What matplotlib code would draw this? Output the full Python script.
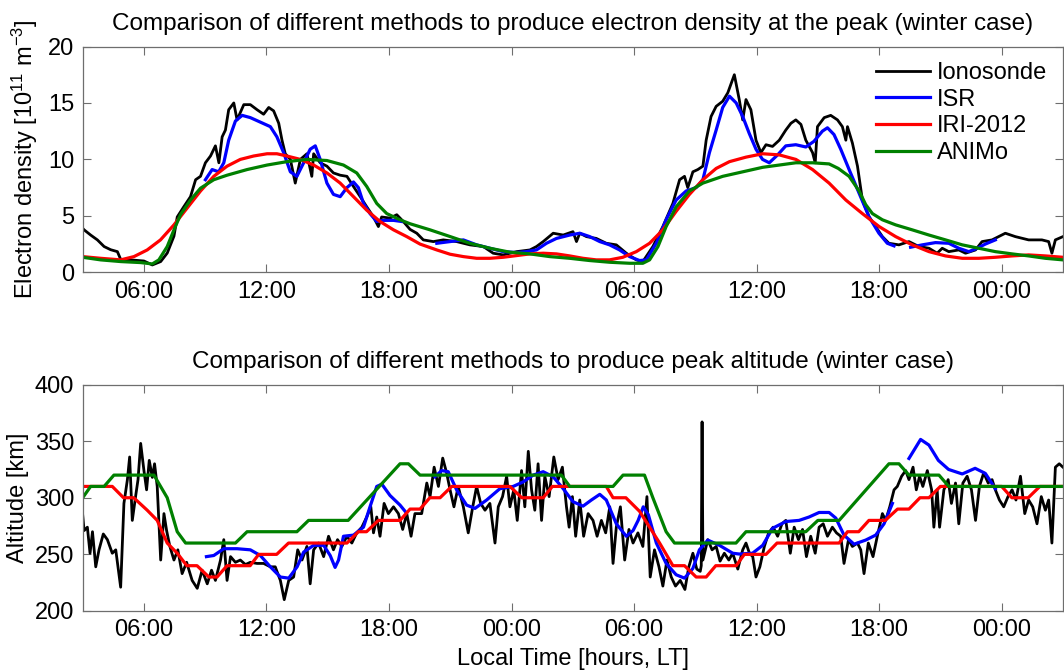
import numpy as np
import matplotlib
matplotlib.use("Agg")
import matplotlib.pyplot as plt

plt.rcParams['font.family'] = ['Liberation Sans', 'DejaVu Sans']
plt.rcParams['mathtext.default'] = 'regular'

nan = np.nan

# ---- electron density at the peak [1e11 m^-3], time in hours LT from day-1 00:00 ----
ne_iono_t = [3.0, 3.07, 3.39, 3.72, 4.05, 4.37, 4.70, 4.86, 5.35, 6.0, 6.41, 6.82, 7.14, 7.47, 7.63,
             7.95, 8.28, 8.53, 8.77, 9.01, 9.26, 9.50, 9.67, 9.83, 9.99, 10.15, 10.40, 10.56, 10.89,
             11.21, 11.54, 11.86, 12.11, 12.35, 12.60, 12.76, 12.92, 13.17, 13.41, 13.66, 13.98, 14.22,
             14.31, 14.63, 14.96, 15.28, 15.61, 15.94, 16.26, 16.59, 16.91, 17.24, 17.48, 17.64, 18.05,
             18.38, 18.70, 19.03, 19.36, 19.68, 20.17, 20.66, 21.31, 21.96, 22.62, 23.10, 23.59, 24.25,
             24.90, 25.22, 25.55, 26.04, 26.53, 27.01, 27.18, 27.34, 27.67, 28.15, 28.64, 29.13, 29.62,
             30.11, 30.43, 30.92, 31.41, 31.90, 32.23, 32.47, 32.63, 32.88, 33.12, 33.37, 33.53, 33.77,
             34.02, 34.34, 34.59, 34.91, 35.15, 35.32, 35.48, 35.72, 35.97, 36.21, 36.46, 36.78, 37.11,
             37.43, 37.68, 37.92, 38.17, 38.41, 38.74, 38.87, 38.98, 39.31, 39.63, 39.96, 40.20, 40.37,
             40.45, 40.69, 40.94, 41.18, 41.51, 41.83, 42.16, 42.48, 42.97, 43.46, 43.95, 44.44, 44.84,
             45.09, 45.41, 45.90, 46.23, 46.72, 47.04, 47.53, 48.18, 48.67, 49.32, 49.97, 50.30, 50.46,
             50.63, 51.0]
ne_iono = [3.9, 3.76, 3.3, 2.87, 2.28, 2.0, 1.83, 1.15, 1.1, 1.0, 0.65, 0.95, 1.7, 3.2, 4.9,
           5.8, 6.7, 8.2, 8.5, 9.7, 10.3, 11.2, 9.7, 12.0, 12.6, 14.4, 15.0, 13.5, 14.85,
           14.85, 14.4, 14.0, 14.6, 14.3, 13.2, 11.7, 10.5, 10.0, 7.9, 10.0, 10.5, 8.5,
           10.5, 9.7, 9.4, 8.8, 8.6, 8.5, 7.6, 6.7, 5.8, 4.9, 4.05, 4.9, 4.8,
           5.1, 4.5, 3.8, 3.46, 2.87, 2.72, 2.87, 2.72, 2.43, 2.28, 1.69, 1.54, 1.83,
           1.98, 2.28, 2.72, 3.46, 3.3, 3.6, 2.72, 3.46, 3.16, 3.0, 2.57, 2.43, 1.69,
           1.1, 0.95, 2.28, 4.05, 6.1, 8.2, 8.5, 7.5, 8.9, 9.1, 9.4, 11.7, 13.8,
           14.7, 15.15, 15.9, 17.5, 15.3, 13.5, 15.3, 14.4, 11.7, 10.6, 11.3, 11.15, 11.7,
           12.6, 13.2, 13.5, 13.1, 11.7, 10.6, 9.7, 12.9, 13.7, 13.9, 13.5, 12.9, 11.7,
           12.9, 11.45, 9.4, 6.4, 4.9, 4.05, 3.16, 2.57, 2.43, 2.72, 2.28, 2.13, 1.69,
           2.13, 1.83, 1.98, 1.69, 1.98, 2.72, 2.87, 3.46, 3.16, 2.87, 2.87, 2.72, 1.69,
           2.87, 3.16]

ne_isr_t = [9.01, 9.34, 9.66, 9.91, 10.15, 10.48, 10.81, 11.21, 11.70, 12.19, 12.51, 12.84, 13.17,
            13.49, 13.82, 14.14, 14.39, 14.63, 14.96, 15.28, 15.61, 15.94, 16.26, 16.50, 16.75, 17.07,
            17.40, 17.73, 18.22, 18.62, 19.5,
            20.34, 20.99, 21.64, 22.29, 22.94, 23.59, 24.25, 24.73, 25.22, 25.71, 26.20, 26.85, 27.34,
            27.83, 28.32, 28.80, 29.29, 29.78, 30.27, 30.60, 31.09, 31.57, 32.06, 32.55, 33.04, 33.37,
            33.69, 34.02, 34.34, 34.67, 35.0, 35.32, 35.64, 35.97, 36.29, 36.62, 37.03, 37.43, 37.92,
            38.41, 38.81, 39.22, 39.47, 39.79, 40.12, 40.53, 41.02, 41.51, 41.99, 42.40, 42.73, 43.1,
            43.54, 44.11, 44.76, 45.41, 45.90, 46.39, 46.80, 47.20, 47.69]
ne_isr = [8.2, 9.1, 8.9, 9.7, 11.7, 13.4, 13.9, 13.7, 13.3, 12.9, 12.0, 10.6, 8.9,
          8.5, 9.7, 10.9, 11.2, 10.0, 7.9, 6.9, 6.7, 7.5, 8.0, 7.5, 6.1, 5.2,
          4.5, 4.6, 4.6, 4.5, nan,
          2.57, 2.72, 2.87, 2.43, 2.13, 1.83, 1.75, 1.83, 1.98, 2.57, 3.0, 3.3, 3.46,
          3.16, 2.72, 2.43, 1.98, 1.39, 1.04, 1.1, 2.57, 4.65, 6.4, 7.2, 7.5, 8.2,
          10.6, 12.6, 14.6, 15.6, 15.0, 13.8, 12.3, 10.9, 10.0, 9.7, 10.4, 11.2, 11.3,
          11.1, 11.6, 12.5, 12.8, 12.2, 10.9, 9.1, 7.0, 4.9, 3.46, 2.57, 2.34, nan,
          2.22, 2.43, 2.63, 2.57, 2.13, 1.83, 2.13, 2.5, 2.87]

ne_iri_t = [3.0, 3.88, 4.86, 5.51, 6.16, 6.81, 7.47, 8.12, 8.77, 9.42, 10.07, 10.72, 11.37, 12.03,
            12.51, 13.0, 13.66, 14.31, 14.96, 15.61, 16.26, 16.91, 17.56, 18.22, 18.87, 19.52, 20.34,
            20.99, 21.64, 22.29, 22.94, 23.59, 24.25, 24.90, 25.55, 26.20, 26.85, 27.50, 28.15, 28.80,
            29.45, 30.11, 30.76, 31.41, 32.06, 32.71, 33.37, 34.02, 34.67, 35.48, 36.30, 37.11, 37.92,
            38.74, 39.55, 40.37, 41.18, 42.0, 42.81, 43.62, 44.44, 45.25, 46.07, 46.88, 47.69, 48.51,
            49.32, 50.14, 51.0]
ne_iri = [1.39, 1.24, 1.1, 1.39, 1.98, 2.87, 4.2, 5.7, 7.2, 8.5, 9.4, 10.0, 10.3, 10.5,
          10.5, 10.3, 10.0, 9.5, 8.8, 7.9, 6.7, 5.5, 4.5, 3.76, 3.16, 2.5, 1.98,
          1.6, 1.39, 1.24, 1.24, 1.33, 1.48, 1.63, 1.69, 1.63, 1.45, 1.24, 1.1, 1.1,
          1.33, 1.83, 2.57, 3.76, 5.4, 6.9, 8.2, 9.2, 9.8, 10.2, 10.5, 10.4, 10.0,
          9.1, 7.9, 6.4, 5.2, 4.05, 3.16, 2.43, 1.83, 1.45, 1.24, 1.24, 1.33, 1.45,
          1.54, 1.45, 1.33]

ne_animo_t = [3.0, 3.88, 4.86, 5.84, 6.41, 6.73, 7.14, 7.47, 7.79, 8.28, 8.77, 9.42, 10.07, 11.05,
              12.03, 13.0, 13.98, 14.96, 15.77, 16.42, 16.91, 17.40, 17.89, 18.54, 19.03, 20.01, 21.0,
              21.96, 22.94, 23.92, 24.90, 25.87, 26.85, 27.83, 28.80, 29.78, 30.43, 30.76, 31.17, 31.57,
              32.06, 32.71, 33.37, 34.34, 35.32, 36.30, 37.11, 37.92, 38.74, 39.55, 40.0, 40.53, 41.02,
              41.34, 41.67, 42.16, 42.81, 43.62, 44.44, 45.25, 46.07, 46.88, 47.69, 48.51, 49.32, 50.14,
              51.0]
ne_animo = [1.33, 1.1, 0.95, 0.86, 0.74, 1.1, 2.28, 3.76, 5.1, 6.4, 7.45, 8.2, 8.6, 9.1,
            9.5, 9.8, 10.0, 9.9, 9.5, 8.8, 7.6, 6.1, 5.2, 4.65, 4.3, 3.76, 3.16,
            2.57, 2.13, 1.78, 1.63, 1.39, 1.24, 1.04, 0.89, 0.8, 0.8, 1.1, 2.28, 4.05,
            5.8, 7.2, 7.9, 8.5, 8.9, 9.3, 9.5, 9.7, 9.7, 9.6, 9.2, 8.5, 7.2,
            6.0, 5.2, 4.65, 4.2, 3.76, 3.3, 2.87, 2.43, 2.13, 1.83, 1.63, 1.45, 1.24,
            1.1]

# ---- peak altitude [km] ----
hm_iono_t = [3.0, 3.07, 3.23, 3.36, 3.48, 3.64, 3.80, 4.01, 4.21, 4.45, 4.62, 4.86, 5.02, 5.19, 5.30,
             5.43, 5.59, 5.71, 5.84, 6.0, 6.13, 6.26, 6.41, 6.52, 6.65, 6.82, 6.98, 7.11, 7.27, 7.47,
             7.66, 7.87, 8.09, 8.36, 8.61, 8.85, 9.10, 9.31, 9.50, 9.75, 9.91, 10.07, 10.24, 10.48,
             10.72, 10.97, 11.21, 11.54, 11.86, 12.19, 12.43, 12.68, 12.87, 13.09, 13.33, 13.53, 13.74,
             13.98, 14.14, 14.31, 14.55, 14.80, 15.04, 15.28, 15.48, 15.69, 15.94, 16.18, 16.42, 16.67,
             16.91, 17.11, 17.24, 17.40, 17.56, 17.76, 17.97, 18.22, 18.46, 18.67, 18.87, 19.08, 19.27,
             19.60, 19.85, 20.01, 20.21, 20.42, 20.63, 20.82, 20.99, 21.18, 21.39, 21.64, 21.88, 22.10,
             22.29, 22.49, 22.70, 22.94, 23.19, 23.35, 23.56, 23.76, 23.92, 24.11, 24.28, 24.49, 24.65,
             24.82, 24.98, 25.14, 25.30, 25.47, 25.63, 25.84, 26.07, 26.28, 26.49, 26.69, 26.82, 26.98,
             27.14, 27.34, 27.53, 27.75, 27.99, 28.19, 28.40, 28.61, 28.81, 28.97, 29.13, 29.33, 29.54,
             29.75, 29.95, 30.19, 30.43, 30.63, 30.79, 31.00, 31.22, 31.41, 31.61, 31.82, 32.03, 32.26,
             32.49, 32.68, 32.88, 33.07, 33.24, 33.29, 33.33, 33.37, 33.45, 33.61, 33.82, 34.02, 34.21,
             34.42, 34.64, 34.83, 35.08, 35.32, 35.48, 35.65, 35.81, 35.97, 36.16, 36.38, 36.59, 36.81,
             37.03, 37.24, 37.43, 37.65, 37.84, 38.05, 38.25, 38.44, 38.65, 38.87, 39.06, 39.26, 39.47,
             39.71, 39.91, 40.12, 40.28, 40.50, 40.69, 40.94, 41.10, 41.26, 41.47, 41.70, 41.91, 42.16,
             42.32, 42.52, 42.73, 42.89, 43.10, 43.30, 43.46, 43.66, 43.82, 43.98, 44.14, 44.36, 44.57,
             44.68, 44.84, 44.96, 45.17, 45.38, 45.54, 45.74, 45.90, 46.10, 46.31, 46.52, 46.72, 46.91,
             47.12, 47.34, 47.53, 47.69, 47.89, 48.10, 48.31, 48.51, 48.70, 48.92, 49.13, 49.32, 49.52,
             49.73, 49.94, 50.14, 50.30, 50.46, 50.63, 50.82, 51.0]
hm_iono = [285, 271, 274, 251, 270, 239, 254, 268, 263, 251, 254, 221, 295, 316, 336,
           280, 301, 316, 348, 324, 307, 333, 318, 330, 310, 245, 286, 271, 257, 245,
           254, 233, 243, 227, 220, 236, 224, 236, 227, 245, 263, 227, 248, 243,
           245, 241, 243, 242, 242, 239, 239, 227, 210, 227, 230, 254, 245,
           257, 224, 254, 260, 248, 266, 254, 263, 257, 266, 260, 269, 274,
           283, 292, 269, 283, 266, 295, 286, 292, 286, 272, 286, 266, 286,
           286, 313, 301, 327, 310, 335, 322, 307, 292, 310, 292, 269, 292,
           310, 295, 289, 295, 260, 292, 301, 319, 292, 307, 280, 324, 292,
           341, 307, 289, 330, 280, 319, 301, 336, 316, 327, 292, 274, 301,
           266, 298, 266, 286, 280, 266, 280, 269, 292, 242, 274, 292, 245,
           272, 260, 269, 257, 301, 230, 254, 239, 222, 245, 230, 222, 227,
           219, 239, 251, 237, 235, 240, 367, 245, 251, 263, 254, 257, 244,
           251, 245, 251, 237, 254, 260, 251, 248, 230, 239, 257, 269, 274,
           266, 277, 280, 251, 274, 263, 272, 248, 266, 251, 274, 277, 266,
           274, 269, 266, 242, 263, 257, 260, 254, 233, 260, 248, 266, 286,
           280, 292, 307, 310, 319, 324, 316, 327, 307, 319, 310, 324, 307,
           274, 307, 274, 307, 316, 295, 313, 277, 313, 319, 307, 280, 310,
           322, 313, 316, 307, 298, 292, 301, 307, 298, 319, 286, 298, 292,
           277, 301, 289, 298, 260, 327, 330, 327]

hm_isr_t = [9.06, 9.42, 9.91, 10.56, 11.21, 11.70, 12.19, 12.68, 13.09, 13.50, 13.82, 14.31, 14.80,
            15.12, 15.36, 15.53, 15.77, 16.26, 16.75, 17.07, 17.40, 17.65, 18.05, 18.54, 18.79, 19.5,
            20.25, 20.58, 20.90, 21.31, 21.80, 22.21, 22.78, 23.43, 24.08, 24.57, 25.06, 25.55, 26.04,
            26.53, 27.01, 27.50, 27.91, 28.32, 28.64, 29.13, 29.62, 29.95, 30.20, 30.45, 30.70, 31.09,
            31.57, 32.06, 32.47, 32.88, 33.20, 33.61, 34.18, 34.83, 35.15, 35.80, 36.30, 36.78, 37.43,
            38.08, 38.57, 39.06, 39.55, 39.88, 40.28, 40.77, 41.34, 41.83, 42.24, 42.65, 43.0,
            43.46, 44.03, 44.44, 44.90, 45.40, 46.07, 46.70, 47.20, 47.69]
hm_isr = [248, 249, 255, 255, 254, 249, 239, 230, 229, 239, 252, 258, 258,
          249, 238.5, 245, 266, 267, 274, 292, 310, 312, 302, 293.5, 288, nan,
          318.5, 324, 323, 307, 293.5, 290.6, 298, 308, 310, 314, 320, 323, 318.5,
          308, 296.5, 292.6, 298, 303, 298, 277, 266, 271, 280, 292, 285, 260,
          242, 232, 229, 237.6, 254, 262.6, 258, 251, 250.3, 251, 258, 273, 279,
          280, 283, 287, 287, 282, 267, 259, 262.6, 267, 277, 295, nan,
          334.7, 351.5, 346.5, 333, 325, 321, 326, 321.5, 308]

hm_iri_t = [3.0, 4.45, 5.0, 5.5, 6.16, 6.65, 7.14, 7.63, 8.1, 8.6, 9.18, 9.58, 10.07, 11.2, 11.62,
            12.5, 13.08, 15.94, 16.5, 16.9, 17.48, 18.54, 19.03, 19.52, 20.0, 20.5, 21.07, 23.92,
            24.5, 25.55, 26.0, 28.64, 28.97, 29.6, 30.27, 30.76, 31.25, 31.9, 32.47, 33.04, 33.53,
            34.0, 35.0, 35.4, 36.46, 37.0, 40.04, 40.45, 41.0, 41.5, 42.3, 42.9, 43.46, 44.0, 44.44,
            45.0, 48.0, 48.5, 49.3, 49.87, 51.0]
hm_iri = [310, 310, 300, 300, 289, 280, 260, 251, 240, 240, 230, 230, 240, 240, 250,
          250, 260, 260, 270, 270, 280, 280, 290, 290, 300, 300, 310, 310,
          300, 300, 310, 310, 300, 300, 288, 274, 260, 240, 240, 230, 230,
          240, 240, 250, 250, 260, 260, 270, 270, 280, 280, 290, 290, 300, 300,
          310, 310, 300, 300, 310, 310]

hm_animo_t = [3.0, 3.39, 4.05, 4.53, 6.49, 7.14, 7.63, 8.04, 10.48, 11.05, 13.49, 14.06, 16.0, 18.54,
              18.95, 19.52, 26.44, 26.85, 28.97, 29.46, 30.51, 30.92, 31.57, 31.98, 34.99, 35.48, 38.41,
              39.0, 40.04, 42.48, 42.97, 43.46, 44.93, 45.41, 51.0]
hm_animo = [300, 310, 310, 320, 320, 300, 270, 260, 260, 270, 270, 280, 280, 330,
            330, 320, 320, 310, 310, 320, 320, 300, 270, 260, 260, 270, 270,
            280, 280, 330, 330, 320, 320, 310, 310]

tick_hours = [6, 12, 18, 24, 30, 36, 42, 48]
tick_labels = ['06:00', '12:00', '18:00', '00:00', '06:00', '12:00', '18:00', '00:00']
series_labels = ['Ionosonde', 'ISR', 'IRI-2012', 'ANIMo']
colors = ['black', '#0000ff', '#ff0000', '#008000']

fs = 17
fig = plt.figure(figsize=(10.64, 6.72), dpi=100)
ax1 = fig.add_axes([0.0777, 0.5948, 0.9213, 0.336])
ax2 = fig.add_axes([0.0777, 0.0908, 0.9213, 0.337])


def style(ax):
    ax.set_xlim(3, 51)
    ax.set_xticks(tick_hours)
    ax.set_xticklabels(tick_labels)
    ax.tick_params(direction='in', length=6, width=0.8, color='#6e6e6e',
                   top=True, right=True, labelsize=fs, pad=6)
    for s in ax.spines.values():
        s.set_color('#6e6e6e')
        s.set_linewidth(0.9)


ax1.plot(ne_iono_t, ne_iono, color=colors[0], lw=2.0, label=series_labels[0])
ax1.plot(ne_isr_t, ne_isr, color=colors[1], lw=2.3, label=series_labels[1])
ax1.plot(ne_iri_t, ne_iri, color=colors[2], lw=2.3, label=series_labels[2])
ax1.plot(ne_animo_t, ne_animo, color=colors[3], lw=2.3, label=series_labels[3])
style(ax1)
ax1.set_ylim(0, 20)
ax1.set_yticks([0, 5, 10, 15, 20])
ax1.set_ylabel('Electron density [10$^{11}$ m$^{-3}$]', fontsize=fs, labelpad=6)
ax1.set_title('Comparison of different methods to produce electron density at the peak (winter case)',
              fontsize=17.5, pad=12)
ax1.legend(loc='upper right', frameon=False, fontsize=fs, handlelength=2.3,
           handletextpad=0.3, labelspacing=0.2, borderaxespad=0.25)

ax2.plot(hm_iono_t, hm_iono, color=colors[0], lw=2.0)
ax2.plot(hm_isr_t, hm_isr, color=colors[1], lw=2.3)
ax2.plot(hm_iri_t, hm_iri, color=colors[2], lw=2.3)
ax2.plot(hm_animo_t, hm_animo, color=colors[3], lw=2.3)
style(ax2)
ax2.set_ylim(200, 400)
ax2.set_yticks([200, 250, 300, 350, 400])
ax2.set_ylabel('Altitude [km]', fontsize=fs, labelpad=4)
ax2.set_xlabel('Local Time [hours, LT]', fontsize=fs, labelpad=5)
ax2.set_title('Comparison of different methods to produce peak altitude (winter case)',
              fontsize=17.5, pad=12)

fig.savefig('out.png', dpi=100)
